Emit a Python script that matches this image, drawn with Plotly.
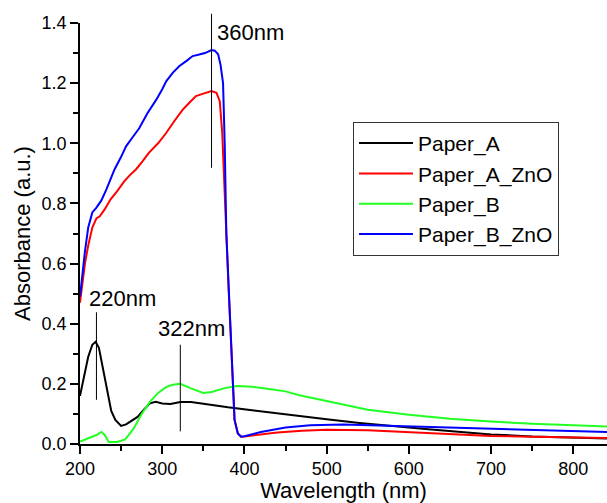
import plotly.graph_objects as go

# Paper_A (black)
wl_a = [200, 205, 210, 215, 219, 223, 228, 233, 238, 243, 250, 256, 262, 270, 278, 285, 292, 300, 310, 322, 335, 350, 365, 380, 400, 420, 440, 467, 500, 540, 580, 620, 660, 700, 750, 800, 841]
ab_a = [0.16, 0.22, 0.29, 0.33, 0.34, 0.32, 0.25, 0.17, 0.11, 0.08, 0.06, 0.065, 0.075, 0.09, 0.115, 0.135, 0.14, 0.135, 0.133, 0.14, 0.14, 0.133, 0.128, 0.122, 0.115, 0.108, 0.101, 0.092, 0.082, 0.07, 0.059, 0.05, 0.041, 0.032, 0.025, 0.021, 0.018]

# Paper_A_ZnO (red)
wl_az = [200, 203, 206, 210, 215, 220, 224, 230, 237, 245, 254, 261, 268, 276, 284, 295, 305, 315, 325, 333, 341, 350, 360, 366, 370, 373, 376, 378, 381, 384, 388, 392, 396, 400, 410, 420, 440, 470, 500, 550, 600, 650, 700, 750, 800, 841]
ab_az = [0.47, 0.54, 0.6, 0.66, 0.72, 0.75, 0.757, 0.78, 0.813, 0.84, 0.874, 0.895, 0.913, 0.94, 0.969, 1.0, 1.035, 1.075, 1.112, 1.135, 1.157, 1.165, 1.174, 1.168, 1.14, 1.035, 0.86, 0.7, 0.5, 0.3, 0.08, 0.035, 0.024, 0.025, 0.028, 0.032, 0.038, 0.044, 0.047, 0.046, 0.04, 0.033, 0.027, 0.024, 0.022, 0.02]

# Paper_B (green)
wl_b = [200, 210, 220, 226, 230, 235, 245, 255, 265, 275, 285, 295, 305, 313, 322, 335, 350, 360, 375, 390, 410, 430, 450, 467, 500, 550, 600, 650, 700, 750, 800, 841]
ab_b = [0.008, 0.02, 0.03, 0.04, 0.03, 0.007, 0.007, 0.015, 0.05, 0.1, 0.14, 0.17, 0.19, 0.197, 0.2, 0.185, 0.17, 0.173, 0.185, 0.193, 0.19, 0.183, 0.175, 0.162, 0.142, 0.114, 0.097, 0.084, 0.075, 0.067, 0.062, 0.058]

# Paper_B_ZnO (blue)
wl_bz = [200, 203, 206, 210, 215, 220, 226, 232, 242, 250, 256, 264, 272, 282, 293, 300, 305, 313, 321, 330, 337, 345, 352, 360, 364, 368, 371, 374, 376, 378, 381, 384, 388, 392, 396, 400, 410, 420, 450, 480, 520, 560, 600, 650, 700, 750, 800, 841]
ab_bz = [0.49, 0.57, 0.64, 0.72, 0.77, 0.786, 0.81, 0.846, 0.913, 0.955, 0.99, 1.02, 1.05, 1.1, 1.146, 1.18, 1.207, 1.235, 1.257, 1.275, 1.29, 1.295, 1.3, 1.31, 1.308, 1.296, 1.26, 1.2, 1.0, 0.7, 0.5, 0.3, 0.08, 0.035, 0.024, 0.026, 0.033, 0.04, 0.055, 0.062, 0.065, 0.062, 0.058, 0.054, 0.05, 0.046, 0.043, 0.04]

series = [
    ("Paper_A", wl_a, ab_a, "#000000"),
    ("Paper_A_ZnO", wl_az, ab_az, "#ff0000"),
    ("Paper_B", wl_b, ab_b, "#22ff22"),
    ("Paper_B_ZnO", wl_bz, ab_bz, "#0000ff"),
]

peaks_wl = [360, 220, 322]
peak_labels = ["360nm", "220nm", "322nm"]

fig = go.Figure()
for name, x, y, c in series:
    fig.add_trace(go.Scatter(x=x, y=y, mode="lines", name=name,
                             line=dict(color=c, width=2)))

font = "Arial, Liberation Sans, sans-serif"

fig.add_shape(type="line", xref="x", yref="paper", x0=peaks_wl[0], x1=peaks_wl[0],
              y0=0.656, y1=1.022, line=dict(color="black", width=1))
fig.add_shape(type="line", xref="x", yref="y", x0=peaks_wl[1], x1=peaks_wl[1],
              y0=0.147, y1=0.438, line=dict(color="black", width=1))
fig.add_shape(type="line", xref="x", yref="y", x0=peaks_wl[2], x1=peaks_wl[2],
              y0=0.042, y1=0.330, line=dict(color="black", width=1))

fig.add_annotation(x=364, y=1.368, xref="x", yref="y", text=peak_labels[0], showarrow=False,
                   xanchor="left", yanchor="middle", font=dict(size=22, color="black", family=font))
fig.add_annotation(x=209, y=0.485, xref="x", yref="y", text=peak_labels[1], showarrow=False,
                   xanchor="left", yanchor="middle", font=dict(size=22, color="black", family=font))
fig.add_annotation(x=293, y=0.383, xref="x", yref="y", text=peak_labels[2], showarrow=False,
                   xanchor="left", yanchor="middle", font=dict(size=22, color="black", family=font))

fig.update_layout(
    width=607, height=503,
    margin=dict(l=80, r=0, t=23, b=59),
    paper_bgcolor="white", plot_bgcolor="white",
    font=dict(family=font, size=18, color="black"),
    showlegend=True,
    legend=dict(x=0.518, y=0.765, xanchor="left", yanchor="top",
                bordercolor="#333", borderwidth=1, bgcolor="white",
                font=dict(size=21, family=font), tracegroupgap=0,
                itemwidth=54),
)
fig.update_xaxes(range=[200, 841], showgrid=False, zeroline=False,
                 showline=True, linecolor="black", linewidth=1.5,
                 ticks="outside", ticklen=8, tickwidth=1.5, tickcolor="black",
                 tickvals=[200, 300, 400, 500, 600, 700, 800],
                 minor=dict(ticks="outside", ticklen=5, tickwidth=1.5, tickcolor="black", dtick=50, tick0=0),
                 tickfont=dict(size=18),
                 title=dict(text="Wavelength (nm)", font=dict(size=22), standoff=1))
fig.update_yaxes(range=[0, 1.4], showgrid=False, zeroline=False,
                 showline=True, linecolor="black", linewidth=1.5,
                 ticks="outside", ticklen=8, tickwidth=1.5, tickcolor="black",
                 tickvals=[0, 0.2, 0.4, 0.6, 0.8, 1.0, 1.2, 1.4],
                 ticktext=["0.0", "0.2", "0.4", "0.6", "0.8", "1.0", "1.2", "1.4"],
                 minor=dict(ticks="outside", ticklen=5, tickwidth=1.5, tickcolor="black", dtick=0.1, tick0=0),
                 tickfont=dict(size=18),
                 title=dict(text="Absorbance (a.u.)", font=dict(size=22), standoff=5))

fig.write_html("out.html")
